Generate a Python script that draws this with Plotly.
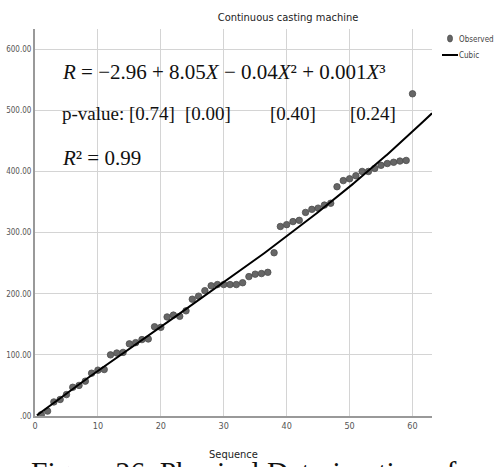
import numpy as np
import plotly.graph_objects as go

sequence = list(range(1, 61))
observed = [2, 8, 23, 27, 35, 47, 50, 57, 70, 75,
            76, 100, 103, 104, 118, 120, 125, 126, 146, 145,
            162, 165, 163, 172, 191, 196, 205, 213, 215, 215,
            215, 215, 218, 228, 232, 233, 235, 267, 310, 313,
            318, 320, 333, 338, 340, 345, 348, 375, 385, 388,
            393, 400, 400, 405, 410, 413, 415, 417, 418, 527]

y_tickvals = [0, 100, 200, 300, 400, 500, 600]
y_ticktext = [".00", "100.00", "200.00", "300.00", "400.00", "500.00", "600.00"]
x_tickvals = [0, 10, 20, 30, 40, 50, 60]

# cubic regression fitted to the observed data
coef = np.polyfit(sequence, observed, 3)
xfit = np.linspace(0.3, 63.1, 300)
yfit = np.polyval(coef, xfit)

W, H = 498, 467
L, R, T, B = 35, 66, 29, 51
PW, PH = W - L - R, H - T - B


def px(x):
    return (x - L) / PW


def py(y):
    return (H - B - y) / PH


cond = "DejaVu Sans Condensed, Liberation Sans Narrow, Arial Narrow, sans-serif"
serif = "Liberation Serif, Times New Roman, serif"

fig = go.Figure()
fig.add_trace(go.Scatter(
    x=sequence, y=observed, mode="markers", name="Observed", showlegend=False,
    marker=dict(size=6.5, color="#666666", line=dict(color="#4d4d4d", width=0.8)),
))
fig.add_trace(go.Scatter(
    x=xfit, y=yfit, mode="lines", name="Cubic", showlegend=False,
    line=dict(color="#000000", width=2),
))

anns = [
    (60, 72, "<i>R</i> = −2.96 + 8.05<i>X</i> − 0.04<i>X</i>² + 0.001<i>X</i>³", 21),
    (60, 113, "p-value: [0.74]", 19),
    (183, 113, "[0.00]", 19),
    (268, 113, "[0.40]", 19),
    (348, 113, "[0.24]", 19),
    (60, 158, "<i>R</i>² = 0.99", 21),
]
annotations = []
for x, y, t, s in anns:
    annotations.append(dict(
        x=px(x), y=py(y), xref="paper", yref="paper", text=t, showarrow=False,
        xanchor="left", yanchor="middle",
        font=dict(family=serif, size=s, color="#111111"),
    ))
annotations.append(dict(
    x=px(233), y=py(454), xref="paper", yref="paper", text="Sequence",
    showarrow=False, xanchor="center", yanchor="middle",
    font=dict(family=cond, size=11, color="#222222"),
))
annotations.append(dict(
    x=px(29), y=py(454), xref="paper", yref="paper",
    text="Figure 26. Physical Deterioration of", showarrow=False,
    xanchor="left", yanchor="top",
    font=dict(family=serif, size=29.5, color="#111111"),
))
# legend (manual)
annotations.append(dict(
    x=px(457), y=py(39), xref="paper", yref="paper", text="Observed",
    showarrow=False, xanchor="left", yanchor="middle",
    font=dict(family=cond, size=8, color="#444444"),
))
annotations.append(dict(
    x=px(457), y=py(55), xref="paper", yref="paper", text="Cubic",
    showarrow=False, xanchor="left", yanchor="middle",
    font=dict(family=cond, size=8, color="#444444"),
))

shapes = [
    dict(type="circle", xref="paper", yref="paper",
         x0=px(447.5), x1=px(452.5), y0=py(42), y1=py(35),
         fillcolor="#666666", line=dict(color="#4d4d4d", width=0.8)),
    dict(type="line", xref="paper", yref="paper",
         x0=px(442), x1=px(458), y0=py(55), y1=py(55),
         line=dict(color="#000000", width=2)),
]

fig.update_layout(
    width=W, height=H,
    margin=dict(l=L, r=R, t=T, b=B, autoexpand=False),
    paper_bgcolor="white", plot_bgcolor="white",
    title=dict(text="Continuous casting machine", x=288 / W, xref="container",
               xanchor="center", y=1 - 17 / H, yref="container", yanchor="middle",
               font=dict(family=cond, size=11, color="#222222")),
    showlegend=False,
    xaxis=dict(range=[0, 63.1], tickvals=x_tickvals, showgrid=True,
               gridcolor="#d4d4d4", gridwidth=1, zeroline=False, automargin=False,
               showline=True, linecolor="#999999", linewidth=2,
               ticks="", tickfont=dict(family=cond, size=9, color="#555555")),
    yaxis=dict(range=[0, 633], tickvals=y_tickvals, ticktext=y_ticktext,
               showgrid=True, gridcolor="#d4d4d4", gridwidth=1, zeroline=False,
               automargin=False,
               showline=True, linecolor="#999999", linewidth=2,
               ticks="", tickfont=dict(family=cond, size=8, color="#555555")),
    annotations=annotations,
    shapes=shapes,
)

fig.write_html("out.html")
